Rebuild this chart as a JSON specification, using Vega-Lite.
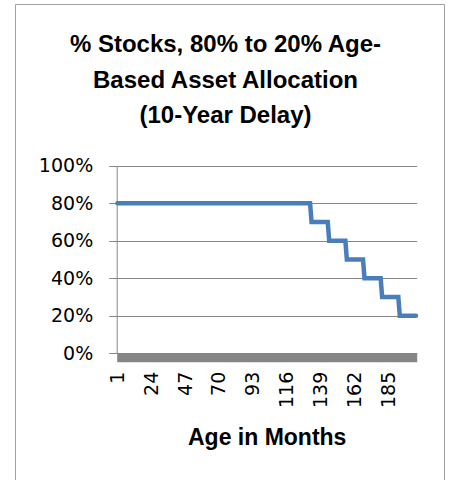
{
  "$schema": "https://vega.github.io/schema/vega-lite/v6.json",
  "width": 429,
  "height": 476,
  "padding": {"left": 15, "top": 4, "right": 5, "bottom": 0},
  "autosize": {"type": "none"},
  "background": "#ffffff",
  "config": {
    "view": {"stroke": "#a0a0a0", "strokeWidth": 1},
    "font": "DejaVu Sans"
  },
  "title": {
    "text": ["% Stocks, 80% to 20% Age-", "Based Asset Allocation", "(10-Year Delay)"],
    "anchor": "middle",
    "frame": "group",
    "baseline": "top",
    "offset": -124,
    "dx": -4,
    "font": "Liberation Sans",
    "fontSize": 24,
    "fontWeight": "bold",
    "lineHeight": 35.5,
    "color": "#000000"
  },
  "data": {
    "values": [
      {"month": 1, "stocks": 0.8}, {"month": 2, "stocks": 0.8}, {"month": 3, "stocks": 0.8}, {"month": 4, "stocks": 0.8},
      {"month": 5, "stocks": 0.8}, {"month": 6, "stocks": 0.8}, {"month": 7, "stocks": 0.8}, {"month": 8, "stocks": 0.8},
      {"month": 9, "stocks": 0.8}, {"month": 10, "stocks": 0.8}, {"month": 11, "stocks": 0.8}, {"month": 12, "stocks": 0.8},
      {"month": 13, "stocks": 0.8}, {"month": 14, "stocks": 0.8}, {"month": 15, "stocks": 0.8}, {"month": 16, "stocks": 0.8},
      {"month": 17, "stocks": 0.8}, {"month": 18, "stocks": 0.8}, {"month": 19, "stocks": 0.8}, {"month": 20, "stocks": 0.8},
      {"month": 21, "stocks": 0.8}, {"month": 22, "stocks": 0.8}, {"month": 23, "stocks": 0.8}, {"month": 24, "stocks": 0.8},
      {"month": 25, "stocks": 0.8}, {"month": 26, "stocks": 0.8}, {"month": 27, "stocks": 0.8}, {"month": 28, "stocks": 0.8},
      {"month": 29, "stocks": 0.8}, {"month": 30, "stocks": 0.8}, {"month": 31, "stocks": 0.8}, {"month": 32, "stocks": 0.8},
      {"month": 33, "stocks": 0.8}, {"month": 34, "stocks": 0.8}, {"month": 35, "stocks": 0.8}, {"month": 36, "stocks": 0.8},
      {"month": 37, "stocks": 0.8}, {"month": 38, "stocks": 0.8}, {"month": 39, "stocks": 0.8}, {"month": 40, "stocks": 0.8},
      {"month": 41, "stocks": 0.8}, {"month": 42, "stocks": 0.8}, {"month": 43, "stocks": 0.8}, {"month": 44, "stocks": 0.8},
      {"month": 45, "stocks": 0.8}, {"month": 46, "stocks": 0.8}, {"month": 47, "stocks": 0.8}, {"month": 48, "stocks": 0.8},
      {"month": 49, "stocks": 0.8}, {"month": 50, "stocks": 0.8}, {"month": 51, "stocks": 0.8}, {"month": 52, "stocks": 0.8},
      {"month": 53, "stocks": 0.8}, {"month": 54, "stocks": 0.8}, {"month": 55, "stocks": 0.8}, {"month": 56, "stocks": 0.8},
      {"month": 57, "stocks": 0.8}, {"month": 58, "stocks": 0.8}, {"month": 59, "stocks": 0.8}, {"month": 60, "stocks": 0.8},
      {"month": 61, "stocks": 0.8}, {"month": 62, "stocks": 0.8}, {"month": 63, "stocks": 0.8}, {"month": 64, "stocks": 0.8},
      {"month": 65, "stocks": 0.8}, {"month": 66, "stocks": 0.8}, {"month": 67, "stocks": 0.8}, {"month": 68, "stocks": 0.8},
      {"month": 69, "stocks": 0.8}, {"month": 70, "stocks": 0.8}, {"month": 71, "stocks": 0.8}, {"month": 72, "stocks": 0.8},
      {"month": 73, "stocks": 0.8}, {"month": 74, "stocks": 0.8}, {"month": 75, "stocks": 0.8}, {"month": 76, "stocks": 0.8},
      {"month": 77, "stocks": 0.8}, {"month": 78, "stocks": 0.8}, {"month": 79, "stocks": 0.8}, {"month": 80, "stocks": 0.8},
      {"month": 81, "stocks": 0.8}, {"month": 82, "stocks": 0.8}, {"month": 83, "stocks": 0.8}, {"month": 84, "stocks": 0.8},
      {"month": 85, "stocks": 0.8}, {"month": 86, "stocks": 0.8}, {"month": 87, "stocks": 0.8}, {"month": 88, "stocks": 0.8},
      {"month": 89, "stocks": 0.8}, {"month": 90, "stocks": 0.8}, {"month": 91, "stocks": 0.8}, {"month": 92, "stocks": 0.8},
      {"month": 93, "stocks": 0.8}, {"month": 94, "stocks": 0.8}, {"month": 95, "stocks": 0.8}, {"month": 96, "stocks": 0.8},
      {"month": 97, "stocks": 0.8}, {"month": 98, "stocks": 0.8}, {"month": 99, "stocks": 0.8}, {"month": 100, "stocks": 0.8},
      {"month": 101, "stocks": 0.8}, {"month": 102, "stocks": 0.8}, {"month": 103, "stocks": 0.8}, {"month": 104, "stocks": 0.8},
      {"month": 105, "stocks": 0.8}, {"month": 106, "stocks": 0.8}, {"month": 107, "stocks": 0.8}, {"month": 108, "stocks": 0.8},
      {"month": 109, "stocks": 0.8}, {"month": 110, "stocks": 0.8}, {"month": 111, "stocks": 0.8}, {"month": 112, "stocks": 0.8},
      {"month": 113, "stocks": 0.8}, {"month": 114, "stocks": 0.8}, {"month": 115, "stocks": 0.8}, {"month": 116, "stocks": 0.8},
      {"month": 117, "stocks": 0.8}, {"month": 118, "stocks": 0.8}, {"month": 119, "stocks": 0.8}, {"month": 120, "stocks": 0.8},
      {"month": 121, "stocks": 0.8}, {"month": 122, "stocks": 0.8}, {"month": 123, "stocks": 0.8}, {"month": 124, "stocks": 0.8},
      {"month": 125, "stocks": 0.8}, {"month": 126, "stocks": 0.8}, {"month": 127, "stocks": 0.8}, {"month": 128, "stocks": 0.8},
      {"month": 129, "stocks": 0.8}, {"month": 130, "stocks": 0.8}, {"month": 131, "stocks": 0.8}, {"month": 132, "stocks": 0.8},
      {"month": 133, "stocks": 0.7}, {"month": 134, "stocks": 0.7}, {"month": 135, "stocks": 0.7}, {"month": 136, "stocks": 0.7},
      {"month": 137, "stocks": 0.7}, {"month": 138, "stocks": 0.7}, {"month": 139, "stocks": 0.7}, {"month": 140, "stocks": 0.7},
      {"month": 141, "stocks": 0.7}, {"month": 142, "stocks": 0.7}, {"month": 143, "stocks": 0.7}, {"month": 144, "stocks": 0.7},
      {"month": 145, "stocks": 0.6}, {"month": 146, "stocks": 0.6}, {"month": 147, "stocks": 0.6}, {"month": 148, "stocks": 0.6},
      {"month": 149, "stocks": 0.6}, {"month": 150, "stocks": 0.6}, {"month": 151, "stocks": 0.6}, {"month": 152, "stocks": 0.6},
      {"month": 153, "stocks": 0.6}, {"month": 154, "stocks": 0.6}, {"month": 155, "stocks": 0.6}, {"month": 156, "stocks": 0.6},
      {"month": 157, "stocks": 0.5}, {"month": 158, "stocks": 0.5}, {"month": 159, "stocks": 0.5}, {"month": 160, "stocks": 0.5},
      {"month": 161, "stocks": 0.5}, {"month": 162, "stocks": 0.5}, {"month": 163, "stocks": 0.5}, {"month": 164, "stocks": 0.5},
      {"month": 165, "stocks": 0.5}, {"month": 166, "stocks": 0.5}, {"month": 167, "stocks": 0.5}, {"month": 168, "stocks": 0.5},
      {"month": 169, "stocks": 0.4}, {"month": 170, "stocks": 0.4}, {"month": 171, "stocks": 0.4}, {"month": 172, "stocks": 0.4},
      {"month": 173, "stocks": 0.4}, {"month": 174, "stocks": 0.4}, {"month": 175, "stocks": 0.4}, {"month": 176, "stocks": 0.4},
      {"month": 177, "stocks": 0.4}, {"month": 178, "stocks": 0.4}, {"month": 179, "stocks": 0.4}, {"month": 180, "stocks": 0.4},
      {"month": 181, "stocks": 0.3}, {"month": 182, "stocks": 0.3}, {"month": 183, "stocks": 0.3}, {"month": 184, "stocks": 0.3},
      {"month": 185, "stocks": 0.3}, {"month": 186, "stocks": 0.3}, {"month": 187, "stocks": 0.3}, {"month": 188, "stocks": 0.3},
      {"month": 189, "stocks": 0.3}, {"month": 190, "stocks": 0.3}, {"month": 191, "stocks": 0.3}, {"month": 192, "stocks": 0.3},
      {"month": 193, "stocks": 0.2}, {"month": 194, "stocks": 0.2}, {"month": 195, "stocks": 0.2}, {"month": 196, "stocks": 0.2},
      {"month": 197, "stocks": 0.2}, {"month": 198, "stocks": 0.2}, {"month": 199, "stocks": 0.2}, {"month": 200, "stocks": 0.2},
      {"month": 201, "stocks": 0.2}, {"month": 202, "stocks": 0.2}, {"month": 203, "stocks": 0.2}, {"month": 204, "stocks": 0.2}
    ]
  },
  "mark": {"type": "line", "color": "#4a7ebb", "strokeWidth": 4.5, "strokeCap": "round", "strokeJoin": "miter", "clip": false},
  "encoding": {
    "x": {
      "field": "month",
      "type": "quantitative",
      "scale": {"domain": [0.5, 204.5], "range": [101.7, 401.7], "nice": false, "zero": false},
      "axis": {
        "values": [1, 24, 47, 70, 93, 116, 139, 162, 185],
        "format": "d",
        "labelAngle": -90,
        "labelAlign": "right",
        "labelBaseline": "middle",
        "labelFont": "DejaVu Sans",
        "labelFontSize": 19,
        "labelColor": "#000000",
        "labelPadding": 14,
        "labelOverlap": false,
        "labelFlush": false,
        "ticks": false,
        "tickSize": 0,
        "grid": false,
        "offset": -122.8,
        "domainColor": "#868686",
        "domainWidth": 9,
        "domainCap": "butt",
        "title": "Age in Months",
        "titleFont": "Liberation Sans",
        "titleFontSize": 23,
        "titleFontWeight": "bold",
        "titleColor": "#000000",
        "titleBaseline": "middle",
        "titleY": 80
      }
    },
    "y": {
      "field": "stocks",
      "type": "quantitative",
      "scale": {"domain": [0, 1], "range": [349.3, 161.7], "nice": false, "zero": true},
      "axis": {
        "values": [0, 0.2, 0.4, 0.6, 0.8, 1],
        "format": ".0%",
        "labelFont": "DejaVu Sans",
        "labelFontSize": 19,
        "labelColor": "#000000",
        "labelPadding": 16,
        "tickSize": 8,
        "tickColor": "#868686",
        "tickWidth": 1,
        "grid": true,
        "gridColor": "#868686",
        "gridWidth": 1,
        "gridOpacity": 1,
        "domainColor": "#868686",
        "domainWidth": 1,
        "offset": -101.7,
        "title": null
      }
    }
  }
}
